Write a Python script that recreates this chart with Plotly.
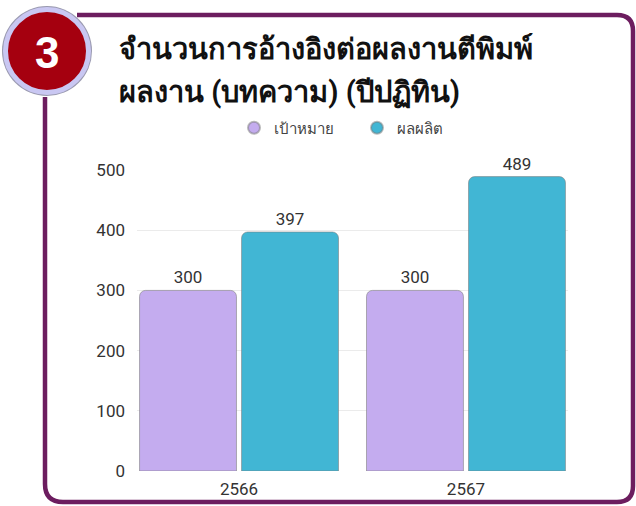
import plotly.graph_objects as go

# ---- data ----
categories = ["2566", "2567"]
target_values = [300, 300]
actual_values = [397, 489]
series_names = ["เป้าหมาย", "ผลผลิต"]
y_ticks = [0, 100, 200, 300, 400, 500]
title_lines = ["จำนวนการอ้างอิงต่อผลงานตีพิมพ์", "ผลงาน (บทความ) (ปีปฏิทิน)"]
badge_text = "3"

# ---- styling ----
W, H = 636, 506
L, R, T, B = 137, 68, 170, 35
PW, PH = W - L - R, H - T - B
LAV = "#C4ACEF"
TEAL = "#41B6D4"
FRAME = "#6C1D5F"
FONT = "Roboto, Noto Sans, sans-serif"


def px(x):
    return (x - L) / PW


def py(y):
    return (H - B - y) / PH


fig = go.Figure()
for name, vals, col in [(series_names[0], target_values, LAV), (series_names[1], actual_values, TEAL)]:
    fig.add_trace(go.Bar(
        x=categories, y=vals, name=name, showlegend=False,
        marker=dict(color=col, line=dict(color="rgba(120,120,120,0.55)", width=1), cornerradius=6),
        text=[str(v) for v in vals], textposition="outside", cliponaxis=False,
        textfont=dict(family=FONT, size=17, color="#333333"),
    ))
    # legend proxy with circle symbol
    fig.add_trace(go.Scatter(
        x=[None], y=[None], mode="markers", name=name,
        marker=dict(symbol="circle", size=15, color=col, line=dict(color="rgba(120,120,120,0.5)", width=1)),
    ))

g = 0.101
fig.update_layout(
    width=W, height=H,
    margin=dict(l=L, r=R, t=T, b=B, pad=0, autoexpand=False),
    paper_bgcolor="white", plot_bgcolor="white",
    barmode="group", bargap=g, bargroupgap=0.05,
    font=dict(family=FONT, color="#333333"),
    legend=dict(orientation="h", x=px(357), y=py(128), xanchor="center", yanchor="middle",
                font=dict(family=FONT, size=15, color="#444444"), itemsizing="constant",
                entrywidth=78, bgcolor="rgba(0,0,0,0)"),
    xaxis=dict(type="category", range=[-0.5 + g / 2, 1.5 - g / 2], showgrid=False, automargin=False,
               showline=False, zeroline=False, ticks="", ticklabelstandoff=6,
               tickfont=dict(family=FONT, size=17, color="#333333")),
    yaxis=dict(range=[0, 500], tickvals=y_ticks, showgrid=True, gridcolor="#EBEBEB", gridwidth=1,
               automargin=False,
               zeroline=False, showline=False, ticks="", ticklabelstandoff=11,
               tickfont=dict(family=FONT, size=17, color="#333333")),
)

# ---- frame ----
r = 16
path = (
    f"M {px(77)},{py(15)} L {px(633 - r)},{py(15)} "
    f"Q {px(633)},{py(15)} {px(633)},{py(15 + r)} "
    f"L {px(633)},{py(502 - r)} Q {px(633)},{py(502)} {px(633 - r)},{py(502)} "
    f"L {px(45 + 18)},{py(502)} Q {px(45)},{py(502)} {px(45)},{py(502 - 18)} "
    f"L {px(45)},{py(97)}"
)
fig.add_shape(type="path", path=path, xref="paper", yref="paper",
              line=dict(color=FRAME, width=4.5), layer="below")

# badge
cx, cy, rad = 47, 51, 45
fig.add_shape(type="circle", xref="paper", yref="paper",
              x0=px(cx - rad), x1=px(cx + rad), y0=py(cy + rad), y1=py(cy - rad),
              fillcolor="#9A9AB0", line=dict(width=0))
fig.add_shape(type="circle", xref="paper", yref="paper",
              x0=px(cx - rad + 3.5), x1=px(cx + rad - 3.5), y0=py(cy + rad - 3.5), y1=py(cy - rad + 3.5),
              fillcolor="#A5000F", line=dict(color="#C9C7F2", width=5))
fig.add_annotation(text=f"<b>{badge_text}</b>", x=px(cx), y=py(cy + 1), xref="paper", yref="paper",
                   showarrow=False, xanchor="center", yanchor="middle",
                   font=dict(family="Liberation Sans, Arial, sans-serif", size=44, color="white"))

# title
for i, line in enumerate(title_lines):
    fig.add_annotation(text=f"<b>{line}</b>", x=px(117), y=py(49 + 43 * i), xref="paper", yref="paper",
                       showarrow=False, xanchor="left", yanchor="middle",
                       font=dict(family=FONT, size=29, color="#111111"))

fig.write_html("out.html", config={"displayModeBar": False},
               post_script="document.body.style.margin='0';document.body.style.overflow='hidden';")
